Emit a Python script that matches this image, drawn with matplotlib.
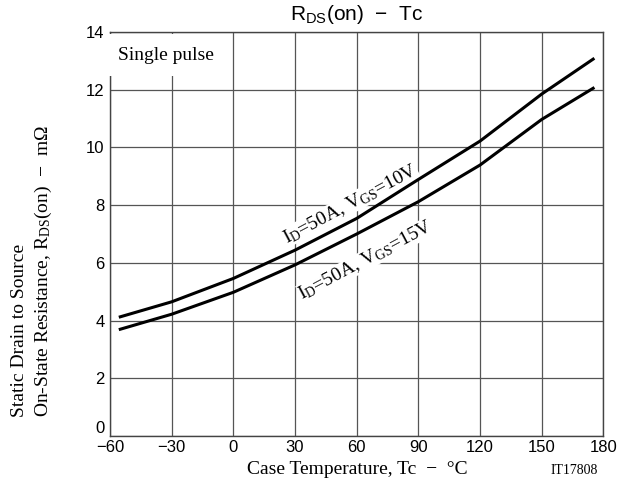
import matplotlib
matplotlib.use('Agg')
import matplotlib.pyplot as plt

# Case temperature (deg C) and on-resistance (mOhm)
tc = [-55, -30, 0, 30, 60, 90, 120, 150, 175]
rds_vgs10 = [4.13, 4.65, 5.46, 6.44, 7.54, 8.89, 10.22, 11.85, 13.06]
rds_vgs15 = [3.70, 4.22, 4.98, 5.93, 7.00, 8.12, 9.39, 10.97, 12.05]

x_ticks = [-60, -30, 0, 30, 60, 90, 120, 150, 180]
y_ticks = [0, 2, 4, 6, 8, 10, 12, 14]

serif = 'Liberation Serif'
sans = 'Liberation Sans'
plt.rcParams['mathtext.fontset'] = 'custom'
plt.rcParams['mathtext.rm'] = serif
plt.rcParams['axes.unicode_minus'] = True

fig = plt.figure(figsize=(6.28, 4.93), dpi=100)
ax = fig.add_axes([110 / 628, 57 / 493, 493.4 / 628, 404 / 493])

ax.plot(tc, rds_vgs10, color='black', lw=2.2, zorder=5)
ax.plot(tc, rds_vgs15, color='black', lw=2.2, zorder=5)

ax.set_xlim(-60, 180)
ax.set_ylim(0, 14)
ax.set_xticks(x_ticks)
ax.set_yticks(y_ticks)
ax.set_xticklabels([str(v).replace('-', '\u2212') for v in x_ticks],
                   family=sans, fontsize=12)
ax.set_yticklabels([str(v) for v in y_ticks], family=sans, fontsize=12)
ax.get_yticklabels()[0].set_va('bottom')
ax.tick_params(axis='x', length=0, pad=3)
ax.tick_params(axis='y', length=0, pad=4)
ax.grid(True, color='#555555', lw=0.9)
ax.set_axisbelow(True)
for s in ax.spines.values():
    s.set_color('#444444')
    s.set_linewidth(1.0)

ax.text(-56, 13.2, 'Single pulse', family=serif, fontsize=14,
        va='center', ha='left', zorder=3,
        bbox=dict(facecolor='white', edgecolor='none', pad=9))

ax.text(57, 8.05, r'$\mathregular{I_D}$=50A, $\mathregular{V_{GS}}$=10V',
        family=serif, fontsize=14, rotation=28, ha='center', va='center',
        rotation_mode='anchor', zorder=3,
        bbox=dict(facecolor='white', edgecolor='none', pad=0))
ax.text(64.5, 6.1, r'$\mathregular{I_D}$=50A, $\mathregular{V_{GS}}$=15V',
        family=serif, fontsize=14, rotation=28, ha='center', va='center',
        rotation_mode='anchor', zorder=3,
        bbox=dict(facecolor='white', edgecolor='none', pad=0))

fig.text(357 / 628, 1 - 14 / 493, r'$\mathregular{R_{DS}(on)}$  ' + '\u2212  Tc',
         family=sans, fontsize=15, ha='center', va='center')
fig.text(357 / 628, 1 - 470 / 493, 'Case Temperature, Tc  \u2212  \u00b0C',
         family=serif, fontsize=14, ha='center', va='center')
fig.text(574 / 628, 1 - 471 / 493, 'IT17808', family=serif, fontsize=10,
         ha='center', va='center')
fig.text(20 / 628, 76 / 493, 'Static Drain to Source', family=serif,
         fontsize=14, rotation=90, ha='center', va='bottom')
fig.text(43 / 628, 76 / 493,
         r'On-State Resistance, $\mathregular{R_{DS}(on)}$  ' + '\u2212  m\u03a9',
         family=serif, fontsize=14, rotation=90, ha='center', va='bottom')

fig.savefig('out.png', dpi=100)
